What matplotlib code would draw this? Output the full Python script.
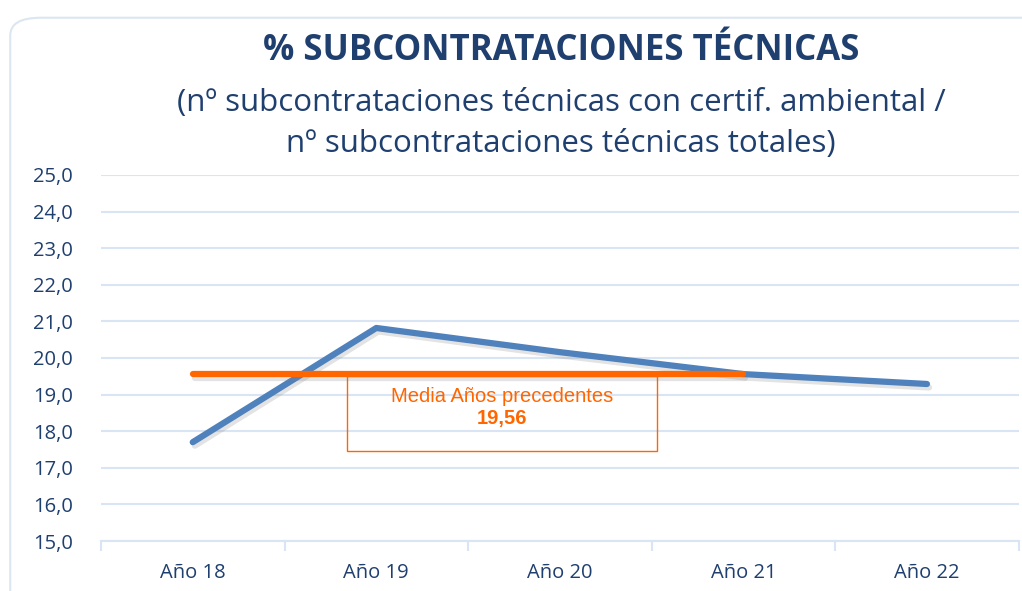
import numpy as np
import matplotlib.pyplot as plt
import matplotlib.patheffects as pe
from matplotlib.patches import FancyBboxPatch, Rectangle

anios = ["Año 18", "Año 19", "Año 20", "Año 21", "Año 22"]
valores = [17.70, 20.82, 20.16, 19.56, 19.29]
media = 19.56
media_texto = "19,56"
yticks = [15, 16, 17, 18, 19, 20, 21, 22, 23, 24, 25]

azul_txt = "#1F3F6F"
azul_linea = "#4F81BD"
naranja = "#FF6600"
grid_col = "#D9E4F4"

plt.rcParams['font.family'] = ['Open Sans', 'DejaVu Sans']

fig = plt.figure(figsize=(10.22, 5.91), dpi=100)

# borde redondeado
borde = FancyBboxPatch((0.010, -0.05), 1.05, 1.02, boxstyle="round,pad=0,rounding_size=0.03",
                       transform=fig.transFigure, fill=False, edgecolor="#DCE6F2", lw=1.5)
fig.patches.append(borde)

ax = fig.add_axes([0.0988, 0.0846, 0.898, 0.6193])
x = np.arange(len(anios))

sombra = [pe.SimpleLineShadow(offset=(1.5, -2.5), shadow_color="gray", alpha=0.22), pe.Normal()]
ax.plot(x, valores, color=azul_linea, lw=4.5, solid_capstyle="round", path_effects=sombra, zorder=3)
ax.plot([x[0], x[3]], [media, media], color=naranja, lw=4.5, solid_capstyle="round",
        path_effects=sombra, zorder=4)

# caja de la media
ax.add_patch(Rectangle((0.84, 17.45), 1.69, media - 17.45 - 0.05, fill=False, edgecolor=naranja,
                       lw=1, zorder=2))
ax.text(1.685, 18.95, "Media Años precedentes", color=naranja, ha="center", va="center",
        fontsize=14.5, family=['Liberation Sans', 'DejaVu Sans'], zorder=5)
ax.text(1.685, 18.36, media_texto, color=naranja, ha="center", va="center", fontsize=14.5,
        fontweight="bold", family=['Liberation Sans', 'DejaVu Sans'], zorder=5)

ax.set_xlim(-0.5, len(anios) - 0.5)
ax.set_ylim(15, 25)
ax.set_yticks(yticks)
ax.set_yticklabels([f"{v:.1f}".replace(".", ",") for v in yticks])
ax.set_xticks(x)
ax.set_xticklabels(anios)
ax.set_xticks(np.arange(-0.5, len(anios)), minor=True)
ax.tick_params(axis="x", which="major", length=0, pad=16, labelsize=14.5, colors=azul_txt)
ax.tick_params(axis="x", which="minor", length=7, color=grid_col, width=1.5)
ax.tick_params(axis="y", length=0, pad=20, labelsize=14.5, colors=azul_txt)
ax.yaxis.grid(True, color=grid_col, lw=1.5)
ax.set_axisbelow(True)
for s in ["top", "right", "left"]:
    ax.spines[s].set_visible(False)
ax.spines["bottom"].set_color(grid_col)
ax.spines["bottom"].set_linewidth(1.5)

fig.text(0.549, 0.914, "% SUBCONTRATACIONES TÉCNICAS", ha="center", va="center",
         fontsize=25, fontweight="bold", color=azul_txt)
fig.text(0.549, 0.826, "(nº subcontrataciones técnicas con certif. ambiental /", ha="center",
         va="center", fontsize=22.5, color=azul_txt)
fig.text(0.549, 0.757, "nº subcontrataciones técnicas totales)", ha="center",
         va="center", fontsize=22.5, color=azul_txt)

fig.savefig("out.png", dpi=100)
